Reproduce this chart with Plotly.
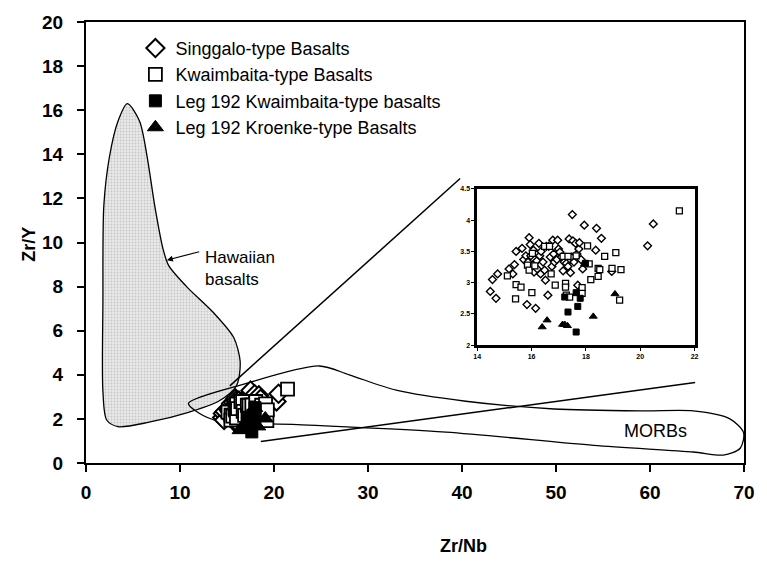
import plotly.graph_objects as go

# ---------------- data ----------------
sing_x = [14.48, 14.56, 14.69, 14.75, 15.17, 15.31, 15.37, 15.43, 15.65, 15.71, 15.79, 15.83, 15.87, 15.91,
          15.95, 15.97, 16.03, 16.07, 16.09, 16.15, 16.19, 16.21, 16.27, 16.30, 16.33, 16.35, 16.42, 16.48,
          16.51, 16.54, 16.60, 16.63, 16.69, 16.75, 16.78, 16.81, 16.84, 16.93, 16.96, 16.99, 17.04, 17.10,
          17.16, 17.20, 17.28, 17.34, 17.38, 17.43, 17.46, 17.50, 17.52, 17.56, 17.62, 17.67, 17.70, 17.74,
          17.76, 17.82, 17.88, 17.94, 18.36, 18.39, 18.57, 18.95, 20.27, 20.48]
sing_y = [2.86, 3.05, 2.75, 3.14, 3.22, 3.14, 3.29, 3.50, 3.55, 3.37, 3.43, 2.65, 3.33, 3.72,
          3.61, 3.43, 3.28, 3.52, 3.17, 2.59, 3.35, 3.22, 3.63, 3.43, 3.14, 3.50, 3.33, 3.20,
          3.04, 3.58, 2.80, 3.58, 3.41, 3.26, 3.68, 3.46, 3.33, 3.37, 3.68, 3.54, 3.49, 3.41,
          3.19, 3.33, 3.31, 3.26, 3.70, 3.16, 3.41, 4.09, 3.67, 3.33, 3.63, 3.46, 2.96, 3.54,
          3.64, 3.37, 3.22, 3.92, 3.52, 3.87, 3.71, 3.18, 3.59, 3.94]

kwai_x = [15.11, 15.43, 15.41, 15.61, 15.85, 15.91, 16.01, 16.03, 16.12, 16.48, 16.66, 16.72, 16.87,
          17.16, 17.25, 17.25, 17.28, 17.40, 17.34, 17.64, 17.86, 17.86, 18.06, 18.12, 18.18, 18.45,
          18.45, 18.51, 18.69, 18.96, 19.10, 19.24, 19.29, 21.44]
kwai_y = [3.11, 2.97, 2.74, 2.93, 3.28, 3.20, 2.84, 3.47, 3.27, 3.58, 3.58, 3.14, 2.96,
          3.42, 2.99, 2.93, 2.80, 2.77, 3.42, 3.43, 2.92, 2.83, 3.59, 3.30, 3.05, 3.23,
          3.10, 3.21, 3.42, 3.23, 3.48, 2.72, 3.21, 4.15]

legkw_x = [17.22, 17.34, 17.64, 17.70, 17.79, 17.64, 17.98]
legkw_y = [2.77, 2.53, 2.84, 2.62, 2.75, 2.21, 3.31]

legkr_x = [16.39, 16.57, 17.14, 17.22, 17.32, 18.27, 19.07, 17.95]
legkr_y = [2.29, 2.40, 2.33, 2.33, 2.31, 2.46, 2.82, 3.30]

# field outlines
hawaii_x = [4.4, 5.7, 6.5, 7.3, 8.2, 8.8, 10.7, 13.6, 15.7, 16.4, 16.0, 14.1, 10.9, 6.7, 3.4,
            2.2, 1.8, 1.8, 1.9, 2.5, 3.4, 4.4]
hawaii_y = [16.3, 15.5, 13.9, 11.7, 9.7, 8.95, 8.0, 6.8, 5.7, 4.6, 3.5, 2.8, 2.3, 1.85, 1.65,
            1.95, 3.25, 7.3, 11.7, 13.9, 15.5, 16.3]

morb_x = [10.9, 17.0, 24.8, 28.0, 33.0, 40.4, 49.8, 59.3, 64.6, 68.5, 69.95, 69.6, 67.8, 64.6, 54.0,
          38.3, 22.5, 14.1, 12.0, 10.9]
morb_y = [2.7, 3.6, 4.4, 4.0, 3.3, 2.8, 2.45, 2.36, 2.36, 2.0, 1.38, 0.67, 0.36, 0.5, 0.8,
          1.4, 1.74, 1.9, 2.27, 2.7]

lineA_x = [15.3, 39.8]
lineA_y = [3.5, 12.9]
lineB_x = [18.6, 64.8]
lineB_y = [0.98, 3.65]

x_ticks = [0, 10, 20, 30, 40, 50, 60, 70]
y_ticks = [0, 2, 4, 6, 8, 10, 12, 14, 16, 18, 20]
ix_ticks = [14, 16, 18, 20, 22]
iy_ticks = [2, 2.5, 3, 3.5, 4, 4.5]

FONT = "Liberation Sans, Arial, sans-serif"

fig = go.Figure()

# Hawaiian field
fig.add_trace(go.Scatter(x=hawaii_x, y=hawaii_y, mode="lines", fill="toself",
                         line=dict(color="black", width=1.3, shape="spline", smoothing=0.8),
                         fillcolor="#e0e0e0",
                         fillpattern=dict(shape=".", fgcolor="#a4a4a4", bgcolor="#e9e9e9", size=3, solidity=0.3),
                         showlegend=False, hoverinfo="skip"))
# MORB field
fig.add_trace(go.Scatter(x=morb_x, y=morb_y, mode="lines",
                         line=dict(color="black", width=1.3, shape="spline", smoothing=0.8),
                         showlegend=False, hoverinfo="skip"))
fig.add_trace(go.Scatter(x=lineA_x, y=lineA_y, mode="lines", line=dict(color="black", width=1.5),
                         showlegend=False, hoverinfo="skip"))
fig.add_trace(go.Scatter(x=lineB_x, y=lineB_y, mode="lines", line=dict(color="black", width=1.5),
                         showlegend=False, hoverinfo="skip"))

# main data (drawn on an overlaid scale, as in the pasted original)
fig.add_trace(go.Scatter(x=sing_x, y=sing_y, mode="markers", name="Singgalo-type Basalts", yaxis="y3",
                         marker=dict(symbol="diamond", size=14, color="white", line=dict(color="black", width=2)),
                         legendgroup="a"))
fig.add_trace(go.Scatter(x=kwai_x, y=kwai_y, mode="markers", name="Kwaimbaita-type Basalts", yaxis="y3",
                         marker=dict(symbol="square", size=13, color="white", line=dict(color="black", width=1.8)),
                         legendgroup="b"))
fig.add_trace(go.Scatter(x=legkw_x, y=legkw_y, mode="markers", name="Leg 192 Kwaimbaita-type basalts", yaxis="y3",
                         marker=dict(symbol="square", size=12, color="black", line=dict(color="black", width=1)),
                         legendgroup="c"))
fig.add_trace(go.Scatter(x=legkr_x, y=legkr_y, mode="markers", name="Leg 192 Kroenke-type Basalts", yaxis="y3",
                         marker=dict(symbol="triangle-up", size=14, color="black", line=dict(color="black", width=1)),
                         legendgroup="d"))

# inset data
fig.add_trace(go.Scatter(x=sing_x, y=sing_y, mode="markers", xaxis="x2", yaxis="y2", showlegend=False,
                         marker=dict(symbol="diamond", size=6, color="white", line=dict(color="black", width=1.4))))
fig.add_trace(go.Scatter(x=kwai_x, y=kwai_y, mode="markers", xaxis="x2", yaxis="y2", showlegend=False,
                         marker=dict(symbol="square", size=6, color="white", line=dict(color="black", width=1.3))))
fig.add_trace(go.Scatter(x=legkw_x, y=legkw_y, mode="markers", xaxis="x2", yaxis="y2", showlegend=False,
                         marker=dict(symbol="square", size=6, color="black", line=dict(color="black", width=1))))
fig.add_trace(go.Scatter(x=legkr_x, y=legkr_y, mode="markers", xaxis="x2", yaxis="y2", showlegend=False,
                         marker=dict(symbol="triangle-up", size=7, color="black", line=dict(color="black", width=1))))

L, R, T, B = 86, 15, 14, 107
W, H = 767, 570
pw, ph = W - L - R, H - T - B

def px(xp):
    return (xp - L) / pw

def py(yp):
    return (H - B - yp) / ph

fig.update_layout(
    width=W, height=H, margin=dict(l=L, r=R, t=T, b=B),
    paper_bgcolor="white", plot_bgcolor="white",
    font=dict(family=FONT, color="black"),
    xaxis=dict(range=[0, 70], tickvals=x_ticks, showgrid=False, zeroline=False,
               showline=True, linecolor="black", linewidth=2, mirror=True,
               ticks="outside", ticklen=7, tickwidth=2, tickcolor="black",
               tickfont=dict(size=19, family=FONT, weight="bold"), ticklabelstandoff=4),
    yaxis=dict(range=[0, 20], tickvals=y_ticks, showgrid=False, zeroline=False,
               showline=True, linecolor="black", linewidth=2, mirror=True,
               ticks="outside", ticklen=7, tickwidth=1.5, tickcolor="black",
               tickfont=dict(size=19, family=FONT, weight="bold"), ticklabelstandoff=10),
    yaxis3=dict(overlaying="y", range=[0.8, 20.8], visible=False),
    xaxis2=dict(domain=[px(482), px(702)], anchor="y2", range=[14, 22], tickvals=ix_ticks,
                showgrid=False, zeroline=False, showline=True, linecolor="black", linewidth=2.5, mirror=True,
                ticks="outside", ticklen=3, tickwidth=1, tickcolor="black",
                tickfont=dict(size=7, family=FONT, weight="bold")),
    yaxis2=dict(domain=[py(343), py(184)], anchor="x2", range=[2, 4.5], tickvals=iy_ticks,
                showgrid=False, zeroline=False, showline=True, linecolor="black", linewidth=2.5, mirror=True,
                ticks="outside", ticklen=3, tickwidth=1, tickcolor="black",
                tickfont=dict(size=7, family=FONT, weight="bold")),
    legend=dict(x=px(136), y=py(22), xanchor="left", yanchor="top", bgcolor="rgba(0,0,0,0)",
                font=dict(size=18, family=FONT), traceorder="grouped", tracegroupgap=0,
                itemwidth=30),
    showlegend=True,
)

fig.add_annotation(text="Zr/Nb", x=px(468), y=py(548), xref="paper", yref="paper", showarrow=False,
                   xanchor="center", yanchor="middle", font=dict(size=18, family=FONT, weight="bold"))
fig.add_annotation(text="Zr/Y", x=px(28), y=py(240), xref="paper", yref="paper", showarrow=False,
                   xanchor="center", yanchor="middle",
                   textangle=-90, font=dict(size=18, family=FONT, weight="bold"))
fig.add_annotation(text="Hawaiian<br>basalts", x=12.4, y=8.8, xref="x", yref="y", showarrow=False,
                   xanchor="left", yanchor="middle", align="left", font=dict(size=17, family=FONT))
fig.add_annotation(x=8.6, y=9.2, ax=12.2, ay=9.6, xref="x", yref="y", axref="x", ayref="y",
                   showarrow=True, arrowhead=2, arrowsize=1, arrowwidth=1.2, arrowcolor="black", text="")
fig.add_annotation(text="MORBs", x=60.6, y=1.47, xref="x", yref="y", showarrow=False,
                   xanchor="center", yanchor="middle", font=dict(size=18, family=FONT))

fig.write_html("out.html")
